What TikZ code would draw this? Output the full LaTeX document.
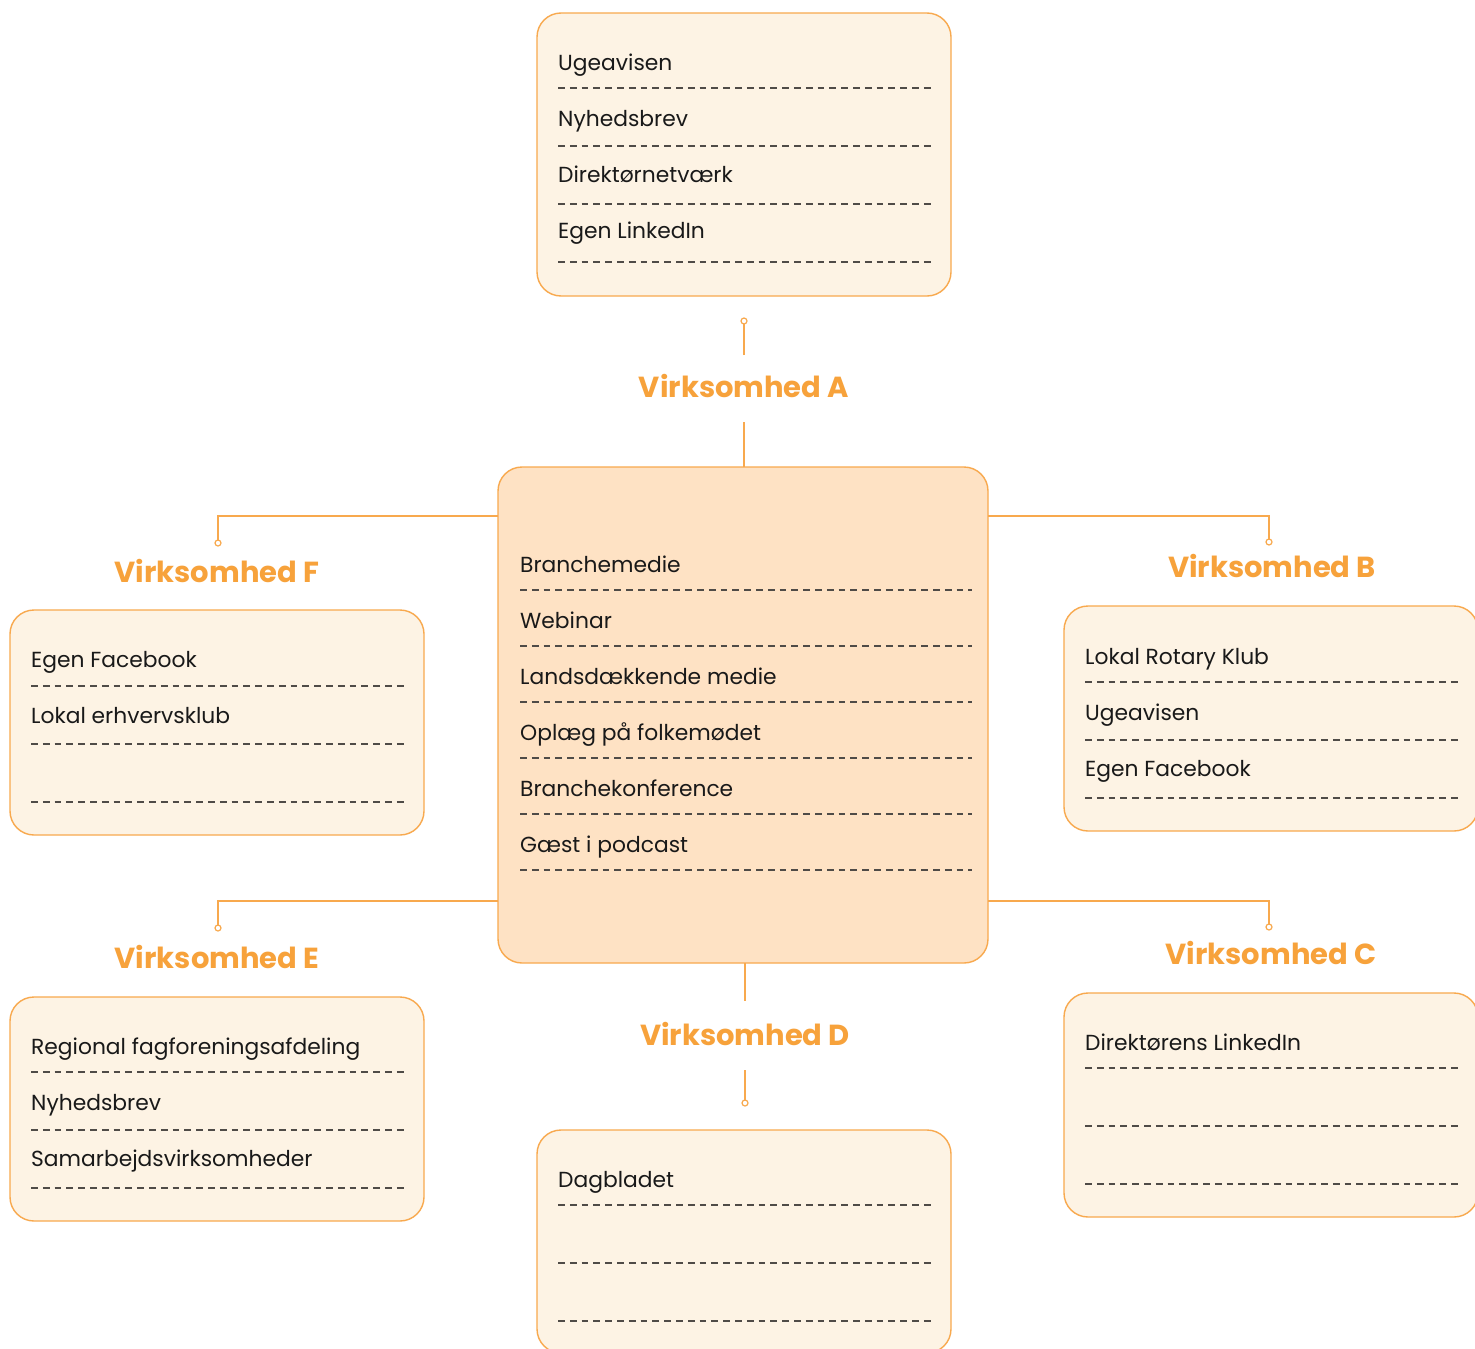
\documentclass[tikz,border=0pt]{standalone}
\usepackage{fontspec}
\setmainfont{Poppins}
\definecolor{org}{HTML}{F7A23B}
\definecolor{bord}{HTML}{F8A94E}
\definecolor{cream}{HTML}{FDF3E4}
\definecolor{peach}{HTML}{FEE2C4}
\definecolor{dashc}{HTML}{4F4B47}
\begin{document}
\begin{tikzpicture}[x=1pt,y=-1pt,
  cbox/.style={draw=bord, line width=1.4pt, rounded corners=24pt, fill=cream},
  mbox/.style={cbox, fill=peach},
  item/.style={anchor=base west, inner sep=0pt, font=\fontsize{21.8}{26}\selectfont, text=black!90},
  head/.style={anchor=base, inner sep=0pt, font=\fontsize{29}{34}\selectfont\bfseries, text=org},
  rule/.style={draw=dashc, line width=1.25pt, dash pattern=on 6.8pt off 5pt},
  conn/.style={draw=bord, line width=1.3pt},
  pin/.style={draw=bord, line width=1.2pt, fill=white}]
\useasboundingbox (0,0) rectangle (1475,1349);
\fill[white] (0,0) rectangle (1475,1349);

% boxes
\path[cbox] (537,13) rectangle (951,296);
\path[mbox] (498,467) rectangle (988,963);
\path[cbox] (10,610) rectangle (424,835);
\path[cbox] (1064,606) rectangle (1478,831);
\path[cbox] (10,997) rectangle (424,1221);
\path[cbox] (1064,993) rectangle (1478,1217);
\path[cbox] (537,1130) rectangle (951,1353);
\coordinate (ctrN) at (744,467);
\coordinate (ctrNW) at (498,516);
\coordinate (ctrNE) at (988,516);
\coordinate (ctrSW) at (498,901);
\coordinate (ctrSE) at (988,901);
\coordinate (ctrS) at (745,963);

% rows: dash y / text / baseline y
\foreach \y/\t/\b in {88/Ugeavisen/70,146/Nyhedsbrev/126,204/Direktørnetværk/182,262/Egen LinkedIn/238}{
  \draw[rule] (558,\y) -- (934,\y);
  \node[item] at (558,\b) {\t};}
\foreach \y/\t in {590/Branchemedie,646/Webinar,702/Landsdækkende medie,758/Oplæg på folkemødet,814/Branchekonference,870/Gæst i podcast}{
  \draw[rule] (520,\y) -- (972,\y);
  \node[item] at (520,\y-18) {\t};}
\foreach \y/\t/\b in {686/Egen Facebook/667,744/Lokal erhvervsklub/723,802//779}{
  \draw[rule] (31,\y) -- (407,\y);
  \node[item] at (31,\b) {\t};}
\foreach \y/\t/\b in {682/Lokal Rotary Klub/664,740/Ugeavisen/720,798/Egen Facebook/776}{
  \draw[rule] (1085,\y) -- (1462,\y);
  \node[item] at (1085,\b) {\t};}
\foreach \y/\t/\b in {1072/Regional fagforeningsafdeling/1054,1130/Nyhedsbrev/1110,1188/Samarbejdsvirksomheder/1166}{
  \draw[rule] (31,\y) -- (407,\y);
  \node[item] at (31,\b) {\t};}
\foreach \y/\t/\b in {1068/Direktørens LinkedIn/1050,1126//1106,1184//1162}{
  \draw[rule] (1085,\y) -- (1462,\y);
  \node[item] at (1085,\b) {\t};}
\foreach \y/\t/\b in {1205/Dagbladet/1187,1263//1243,1321//1299}{
  \draw[rule] (558,\y) -- (934,\y);
  \node[item] at (558,\b) {\t};}

% headings
\node[head] (hA) at (744,397) {Virksomhed A};
\node[head] (hF) at (217,582) {Virksomhed F};
\node[head] (hB) at (1272,577) {Virksomhed B};
\node[head] (hE) at (217,968) {Virksomhed E};
\node[head] (hC) at (1271,964) {Virksomhed C};
\node[head] (hD) at (745,1045) {Virksomhed D};

% connector end points
\coordinate (aLow) at (744,422);
\coordinate (aHigh) at (744,355);
\coordinate (pA) at (744,321);
\coordinate (pF) at (218,543);
\coordinate (pB) at (1269,542);
\coordinate (pE) at (218,928);
\coordinate (pC) at (1269,927);
\coordinate (dHigh) at (745,1001);
\coordinate (dLow) at (745,1070);
\coordinate (pD) at (745,1103);

\draw[conn] (ctrN) -- (aLow);
\draw[conn] (aHigh) -- (pA);
\draw[conn] (ctrNW) -| (pF);
\draw[conn] (ctrNE) -| (pB);
\draw[conn] (ctrSW) -| (pE);
\draw[conn] (ctrSE) -| (pC);
\draw[conn] (ctrS) -- (dHigh);
\draw[conn] (dLow) -- (pD);
\foreach \p in {pA,pF,pB,pE,pC,pD}{\draw[pin] (\p) circle (3pt);}
\end{tikzpicture}
\end{document}
